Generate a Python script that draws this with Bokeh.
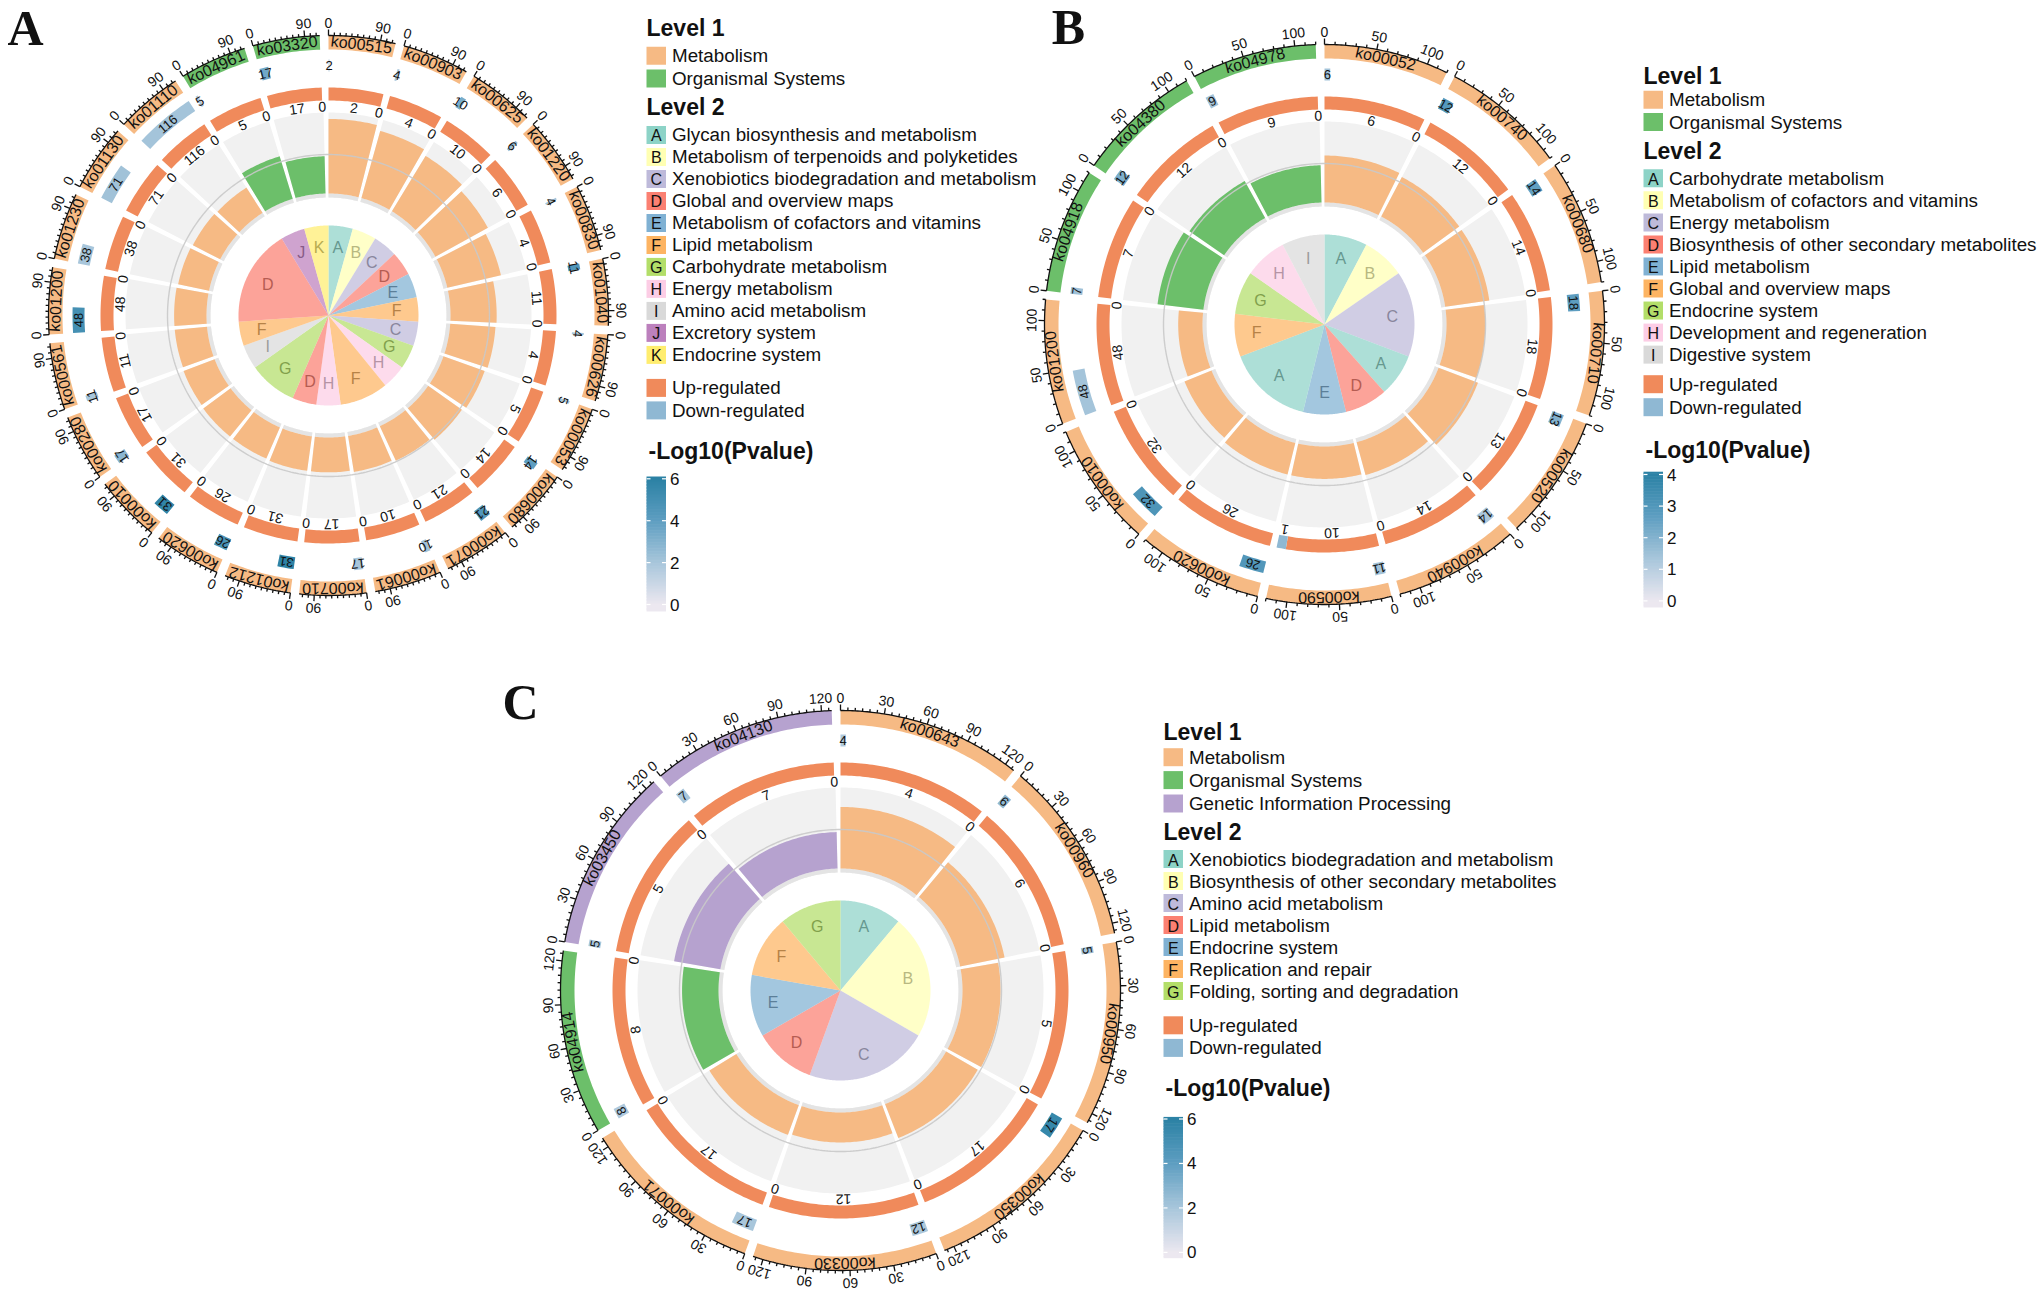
import math
from bokeh.plotting import figure
from bokeh.models import Range1d
from bokeh.core.properties import value
from bokeh.embed import file_html
from bokeh.resources import INLINE

# ======================= DATA =======================
# ---- Panel A ----
A_KO = ["ko00515", "ko00903", "ko00625", "ko01220", "ko00830", "ko01040", "ko00626",
        "ko00053", "ko00680", "ko00071", "ko00061", "ko00710", "ko01212", "ko00620",
        "ko00010", "ko00280", "ko00561", "ko01200", "ko01230", "ko01130", "ko01110",
        "ko04961", "ko03320"]
A_LEVEL1 = ["M", "M", "M", "M", "M", "M", "M", "M", "M", "M", "M", "M", "M", "M",
            "M", "M", "M", "M", "M", "M", "M", "O", "O"]
A_LEVEL2 = ["A", "B", "C", "D", "E", "F", "C", "G", "H", "F", "F", "H", "D", "G",
            "G", "I", "F", "D", "D", "D", "D", "J", "K"]
A_UP = [2, 4, 10, 6, 4, 11, 4, 5, 14, 21, 10, 17, 31, 26, 31, 17, 11, 48, 38, 71, 116, 5, 17]
A_DOWN = [0, 0, 0, 0, 0, 0, 0, 0, 0, 0, 0, 0, 0, 0, 0, 0, 0, 0, 0, 0, 0, 0, 0]
A_LOGP = [1.5, 2.0, 3.3, 2.5, 2.0, 4.5, 2.0, 2.0, 4.0, 4.5, 2.2, 2.0, 5.9, 4.8,
          5.8, 2.8, 2.0, 5.0, 2.0, 2.2, 2.1, 1.8, 3.5]
A_RICH = [0.92, 0.86, 0.80, 0.74, 0.68, 0.57, 0.56, 0.54, 0.51, 0.47, 0.45, 0.43, 0.43, 0.42,
          0.42, 0.41, 0.40, 0.40, 0.39, 0.38, 0.37, 0.55, 0.46]
A_XMAX = 116
A_TICK_LABELS = [0, 90]
A_TICK_STEP = 10
A_PMAX = 6
A_CB_TICKS = [0, 2, 4, 6]
A_L1_NAMES = ["Metabolism", "Organismal Systems"]
A_L1_KEYS = ["M", "O"]
A_L2_LETTERS = ["A", "B", "C", "D", "E", "F", "G", "H", "I", "J", "K"]
A_L2_NAMES = ["Glycan biosynthesis and metabolism", "Metabolism of terpenoids and polyketides",
              "Xenobiotics biodegradation and metabolism", "Global and overview maps",
              "Metabolism of cofactors and vitamins", "Lipid metabolism",
              "Carbohydrate metabolism", "Energy metabolism", "Amino acid metabolism",
              "Excretory system", "Endocrine system"]

# ---- Panel B ----
B_KO = ["ko00052", "ko00740", "ko00680", "ko00710", "ko00520", "ko00940", "ko00590",
        "ko00620", "ko00010", "ko01200", "ko04918", "ko04380", "ko04978"]
B_LEVEL1 = ["M", "M", "M", "M", "M", "M", "M", "M", "M", "M", "O", "O", "O"]
B_LEVEL2 = ["A", "B", "C", "C", "A", "D", "E", "A", "A", "F", "G", "H", "I"]
B_UP = [6, 12, 14, 18, 13, 14, 10, 26, 32, 48, 7, 12, 9]
B_DOWN = [0, 0, 0, 0, 0, 0, 1, 0, 0, 0, 0, 0, 0]
B_LOGP = [1.4, 2.9, 2.6, 2.7, 2.0, 1.3, 1.4, 3.0, 3.1, 1.4, 1.5, 2.1, 1.4]
B_RICH = [0.58, 0.55, 0.55, 0.48, 0.52, 0.42, 0.40, 0.40, 0.36, 0.30, 0.57, 0.52, 0.46]
B_XMAX = 120
B_TICK_LABELS = [0, 50, 100]
B_TICK_STEP = 10
B_PMAX = 4
B_CB_TICKS = [0, 1, 2, 3, 4]
B_L1_NAMES = ["Metabolism", "Organismal Systems"]
B_L1_KEYS = ["M", "O"]
B_L2_LETTERS = ["A", "B", "C", "D", "E", "F", "G", "H", "I"]
B_L2_NAMES = ["Carbohydrate metabolism", "Metabolism of cofactors and vitamins",
              "Energy metabolism", "Biosynthesis of other secondary metabolites",
              "Lipid metabolism", "Global and overview maps", "Endocrine system",
              "Development and regeneration", "Digestive system"]

# ---- Panel C ----
C_KO = ["ko00643", "ko00960", "ko00950", "ko00350", "ko00330", "ko00071", "ko04914",
        "ko03450", "ko04130"]
C_LEVEL1 = ["M", "M", "M", "M", "M", "M", "O", "G", "G"]
C_LEVEL2 = ["A", "B", "B", "C", "C", "D", "E", "F", "G"]
C_UP = [4, 6, 5, 17, 12, 17, 8, 5, 7]
C_DOWN = [0, 0, 0, 0, 0, 0, 0, 0, 0]
C_LOGP = [1.8, 2.6, 2.2, 5.6, 1.9, 2.0, 1.8, 2.0, 2.0]
C_RICH = [0.76, 0.56, 0.47, 0.45, 0.37, 0.39, 0.45, 0.58, 0.45]
C_XMAX = 127
C_TICK_LABELS = [0, 30, 60, 90, 120]
C_TICK_STEP = 5
C_PMAX = 6
C_CB_TICKS = [0, 2, 4, 6]
C_L1_NAMES = ["Metabolism", "Organismal Systems", "Genetic Information Processing"]
C_L1_KEYS = ["M", "O", "G"]
C_L2_LETTERS = ["A", "B", "C", "D", "E", "F", "G"]
C_L2_NAMES = ["Xenobiotics biodegradation and metabolism",
              "Biosynthesis of other secondary metabolites", "Amino acid metabolism",
              "Lipid metabolism", "Endocrine system", "Replication and repair",
              "Folding, sorting and degradation"]

# ======================= STYLE =======================
L1_COLORS = {"M": "#F6BA84", "O": "#6CBF6A", "G": "#B6A2CF"}
L2_COLORS = {"A": "#8DD3C7", "B": "#FFFFB3", "C": "#BEBADA", "D": "#FB8072",
             "E": "#80B1D3", "F": "#FDB462", "G": "#B3DE69", "H": "#FCCDE5",
             "I": "#D9D9D9", "J": "#BC80BD", "K": "#FFED6F"}
UP_COLOR = "#F08A5B"
DOWN_COLOR = "#8FB8D3"
TRACK_BG = "#F1F1F1"
TRACK_STRIP = "#E4E4E4"
CB_STOPS = ["#ECE8F0", "#A8C6DB", "#5E9EC1", "#2C82A5"]
FONT = "Liberation Sans"

G_OUT, G_R2, G_R3, G_TR = 1.8, 1.8, 1.7, 1.4
R_PIE = 90
R_TR_IN, R_BAR0, R_TR_OUT = 118, 122, 203
R_REF = 161
R_LAB3 = 209
R3_IN, R3_OUT = 215, 228
R2_IN, R2_OUT, R2_LAB = 244, 256, 250
RO_IN, RO_OUT = 266, 280
TICK_MAJ, TICK_MIN = 6, 3
R_TICKLAB = 293

# page template of file_html has no body margin: data coordinates == page pixels
W, H = 2040, 1292


def hex2rgb(h):
    h = h.lstrip("#")
    return [int(h[i:i + 2], 16) for i in (0, 2, 4)]


def rgb2hex(c):
    return "#%02x%02x%02x" % tuple(max(0, min(255, int(round(v)))) for v in c)


def cmap(v, vmax):
    t = max(0.0, min(1.0, v / vmax)) * (len(CB_STOPS) - 1)
    i = min(int(t), len(CB_STOPS) - 2)
    f = t - i
    a, b = hex2rgb(CB_STOPS[i]), hex2rgb(CB_STOPS[i + 1])
    return rgb2hex([a[k] + (b[k] - a[k]) * f for k in range(3)])


def darker(hx, f=0.72):
    return rgb2hex([v * f for v in hex2rgb(hx)])


def pol(cx, cy, r, t):
    a = math.radians(t)
    return cx + r * math.sin(a), cy - r * math.cos(a)


def arc(cx, cy, r, t0, t1, step=0.75):
    n = max(2, int(abs(t1 - t0) / step) + 2)
    return [pol(cx, cy, r, t0 + (t1 - t0) * k / (n - 1)) for k in range(n)]


LAYER_ORDER = ["track", "strip", "bar", "pie", "r3", "r2", "outer"]
layers = {k: {"xs": [], "ys": [], "c": [], "a": []} for k in LAYER_ORDER}
blines = {"xs": [], "ys": []}
refl = {"xs": [], "ys": []}
quads = {"l": [], "r": [], "t": [], "b": [], "c": []}
wlines = {"xs": [], "ys": []}

TEXT_STYLES = {
    "ko": ("16px", "normal", "center", FONT),
    "tick": ("14px", "normal", "center", FONT),
    "r2": ("13px", "normal", "center", FONT),
    "r3": ("14px", "normal", "center", FONT),
    "pie": ("16px", "normal", "center", FONT),
    "title": ("23px", "bold", "left", FONT),
    "leg": ("18.8px", "normal", "left", FONT),
    "legletter": ("16px", "normal", "center", FONT),
    "cbl": ("17px", "normal", "left", FONT),
    "panel": ("50px", "bold", "center", "Liberation Serif"),
}
texts = {k: {"x": [], "y": [], "text": [], "angle": [], "color": []} for k in TEXT_STYLES}


def add_text(g, x, y, t, ang=0.0, color="#111111"):
    d = texts[g]
    d["x"].append(x); d["y"].append(y); d["text"].append(str(t))
    d["angle"].append(ang); d["color"].append(color)


def add_ring(layer, cx, cy, r0, r1, t0, t1, color, alpha=1.0):
    if t1 <= t0:
        return
    pts = arc(cx, cy, r1, t0, t1)
    pts += arc(cx, cy, r0, t1, t0) if r0 > 0 else [(cx, cy)]
    L = layers[layer]
    L["xs"].append([q[0] for q in pts]); L["ys"].append([q[1] for q in pts])
    L["c"].append(color); L["a"].append(alpha)


def tang_text(g, cx, cy, r, t, s):
    x, y = pol(cx, cy, r, t)
    add_text(g, x, y, s, -math.radians(t))


def draw_panel(cx, cy, kos, lvl1, lvl2, up, down, logp, rich, xmax, tlabels, tstep, pmax):
    n = len(kos)
    w = 360.0 / n
    for i in range(n):
        t0 = i * w
        tot = up[i] + down[i]
        # rich-factor track
        e = t0 + w - G_TR
        add_ring("track", cx, cy, R_TR_IN, R_TR_OUT, t0, e, TRACK_BG)
        add_ring("strip", cx, cy, R_TR_IN, R_BAR0, t0, e, TRACK_STRIP)
        add_ring("bar", cx, cy, R_BAR0, R_BAR0 + rich[i] * (R_TR_OUT - R_BAR0), t0, e,
                 L1_COLORS[lvl1[i]])
        # up / down ring
        e3 = t0 + w - G_R3
        mid = t0 + (e3 - t0) * up[i] / tot
        add_ring("r3", cx, cy, R3_IN, R3_OUT, t0, mid, UP_COLOR)
        add_ring("r3", cx, cy, R3_IN, R3_OUT, mid, e3, DOWN_COLOR)
        tang_text("r3", cx, cy, R_LAB3, (t0 + mid) / 2, up[i])
        tang_text("r3", cx, cy, R_LAB3, (mid + e3) / 2, down[i])
        # gene-number ring
        e2 = t0 + (w - G_R2) * tot / xmax
        add_ring("r2", cx, cy, R2_IN, R2_OUT, t0, e2, cmap(logp[i], pmax))
        tang_text("r2", cx, cy, R2_LAB, (t0 + e2) / 2, tot)
        # outer band + axis
        eo = t0 + w - G_OUT
        add_ring("outer", cx, cy, RO_IN, RO_OUT, t0, eo, L1_COLORS[lvl1[i]])
        tang_text("ko", cx, cy, (RO_IN + RO_OUT) / 2, (t0 + eo) / 2, kos[i])
        ap = arc(cx, cy, RO_OUT, t0, eo, 0.5)
        blines["xs"].append([q[0] for q in ap]); blines["ys"].append([q[1] for q in ap])
        v = 0
        while v <= xmax:
            tt = t0 + (eo - t0) * v / xmax
            ln = TICK_MAJ if v in tlabels else TICK_MIN
            p0, p1 = pol(cx, cy, RO_OUT, tt), pol(cx, cy, RO_OUT + ln, tt)
            blines["xs"].append([p0[0], p1[0]]); blines["ys"].append([p0[1], p1[1]])
            if v in tlabels:
                tang_text("tick", cx, cy, R_TICKLAB, tt, v)
            v += tstep
    # reference circle
    rp = arc(cx, cy, R_REF, 0, 360, 1.0)
    refl["xs"].append([q[0] for q in rp]); refl["ys"].append([q[1] for q in rp])
    # centre pie of level-2 classes
    runs = []
    for i, c in enumerate(lvl2):
        if runs and runs[-1][0] == c:
            runs[-1][2] = i + 1
        else:
            runs.append([c, i, i + 1])
    for c, s, e in runs:
        add_ring("pie", cx, cy, 0, R_PIE, s * w, e * w, L2_COLORS[c], 0.72)
        x, y = pol(cx, cy, R_PIE * 0.76, (s + e) / 2 * w)
        add_text("pie", x, y, c, 0.0, darker(L2_COLORS[c]))


def draw_legend(x0, ys, l1_keys, l1_names, l2_letters, l2_names, cb_max, cb_ticks):
    sw, sh = 19.5, 18
    tx = x0 + 25.5
    add_text("title", x0, ys["l1t"], "Level 1")
    for k, (key, nm) in enumerate(zip(l1_keys, l1_names)):
        y = ys["l1"][k]
        quads["l"].append(x0); quads["r"].append(x0 + sw)
        quads["t"].append(y - sh / 2); quads["b"].append(y + sh / 2)
        quads["c"].append(L1_COLORS[key])
        add_text("leg", tx, y, nm)
    add_text("title", x0, ys["l2t"], "Level 2")
    for k, (let, nm) in enumerate(zip(l2_letters, l2_names)):
        y = ys["l2"] + k * ys["dy"]
        quads["l"].append(x0); quads["r"].append(x0 + sw)
        quads["t"].append(y - sh / 2); quads["b"].append(y + sh / 2)
        quads["c"].append(L2_COLORS[let])
        add_text("legletter", x0 + sw / 2, y + 1, let)
        add_text("leg", tx, y, nm)
    for y, col, nm in zip(ys["ud"], [UP_COLOR, DOWN_COLOR], ["Up-regulated", "Down-regulated"]):
        quads["l"].append(x0); quads["r"].append(x0 + sw)
        quads["t"].append(y - sh / 2); quads["b"].append(y + sh / 2)
        quads["c"].append(col)
        add_text("leg", tx, y, nm)
    add_text("title", x0 + 2, ys["cbt"], "-Log10(Pvalue)")
    top, bot, tt, tb = ys["cb"]
    nstrip = 90
    for k in range(nstrip):
        y1 = bot - (bot - top) * k / nstrip
        y2 = bot - (bot - top) * (k + 1) / nstrip
        vv = (tb - (y1 + y2) / 2) / (tb - tt) * cb_max
        quads["l"].append(x0); quads["r"].append(x0 + sw)
        quads["t"].append(y2 - 0.3); quads["b"].append(y1 + 0.3)
        quads["c"].append(cmap(vv, cb_max))
    for tv in cb_ticks:
        y = tb - (tb - tt) * tv / cb_max
        add_text("cbl", x0 + sw + 4, y, tv)
        wlines["xs"].append([x0, x0 + 4]); wlines["ys"].append([y, y])
        wlines["xs"].append([x0 + sw - 4, x0 + sw]); wlines["ys"].append([y, y])


# ======================= BUILD =======================
draw_panel(328, 315, A_KO, A_LEVEL1, A_LEVEL2, A_UP, A_DOWN, A_LOGP, A_RICH,
           A_XMAX, A_TICK_LABELS, A_TICK_STEP, A_PMAX)
draw_panel(1324, 324, B_KO, B_LEVEL1, B_LEVEL2, B_UP, B_DOWN, B_LOGP, B_RICH,
           B_XMAX, B_TICK_LABELS, B_TICK_STEP, B_PMAX)
draw_panel(840, 990, C_KO, C_LEVEL1, C_LEVEL2, C_UP, C_DOWN, C_LOGP, C_RICH,
           C_XMAX, C_TICK_LABELS, C_TICK_STEP, C_PMAX)

draw_legend(646, {"l1t": 27.7, "l1": [55.3, 77.9], "l2t": 106.7, "l2": 134.4, "dy": 22.0,
                  "ud": [387.4, 409.9], "cbt": 450.6, "cb": (476.3, 610.7, 478.3, 604)},
            A_L1_KEYS, A_L1_NAMES, A_L2_LETTERS, A_L2_NAMES, A_PMAX, A_CB_TICKS)
draw_legend(1643, {"l1t": 75.2, "l1": [99.3, 121.5], "l2t": 150.4, "l2": 177.8, "dy": 22.04,
                   "ud": [383.7, 406.7], "cbt": 449.3, "cb": (471.5, 606.7, 474, 600.4)},
            B_L1_KEYS, B_L1_NAMES, B_L2_LETTERS, B_L2_NAMES, B_PMAX, B_CB_TICKS)
draw_legend(1163, {"l1t": 731.5, "l1": [756.7, 779.6, 803], "l2t": 831.5, "l2": 858.5,
                   "dy": 22.0, "ud": [1024.8, 1047.4], "cbt": 1087,
                   "cb": (1116.7, 1257.4, 1118.5, 1251.9)},
            C_L1_KEYS, C_L1_NAMES, C_L2_LETTERS, C_L2_NAMES, C_PMAX, C_CB_TICKS)

add_text("panel", 25, 27, "A")
add_text("panel", 1068, 26, "B")
add_text("panel", 520, 701, "C")

p = figure(width=W, height=H, x_range=Range1d(0, W), y_range=Range1d(H, 0),
           output_backend="svg", toolbar_location=None, min_border=0,
           x_axis_type=None, y_axis_type=None, outline_line_color=None)
p.xgrid.visible = False
p.ygrid.visible = False
p.background_fill_color = "white"
p.border_fill_color = "white"

for name in LAYER_ORDER:
    L = layers[name]
    if L["xs"]:
        p.patches(xs=L["xs"], ys=L["ys"], fill_color=L["c"], fill_alpha=L["a"],
                  line_color=None)
p.multi_line(xs=refl["xs"], ys=refl["ys"], line_color="#C9C9C9", line_width=1.4,
             line_alpha=0.9)
p.multi_line(xs=blines["xs"], ys=blines["ys"], line_color="#111111", line_width=1.3)
p.quad(left=quads["l"], right=quads["r"], top=quads["t"], bottom=quads["b"],
       fill_color=quads["c"], line_color=None)
p.multi_line(xs=wlines["xs"], ys=wlines["ys"], line_color="white", line_width=1.2)

for g, (size, style, align, font) in TEXT_STYLES.items():
    d = texts[g]
    if not d["x"]:
        continue
    p.text(x=d["x"], y=d["y"], text=d["text"], angle=d["angle"], text_color=d["color"],
           text_font=value(font), text_font_size=value(size), text_font_style=style,
           text_align=align, text_baseline="middle")

open("out.html", "w").write(file_html(p, INLINE))
